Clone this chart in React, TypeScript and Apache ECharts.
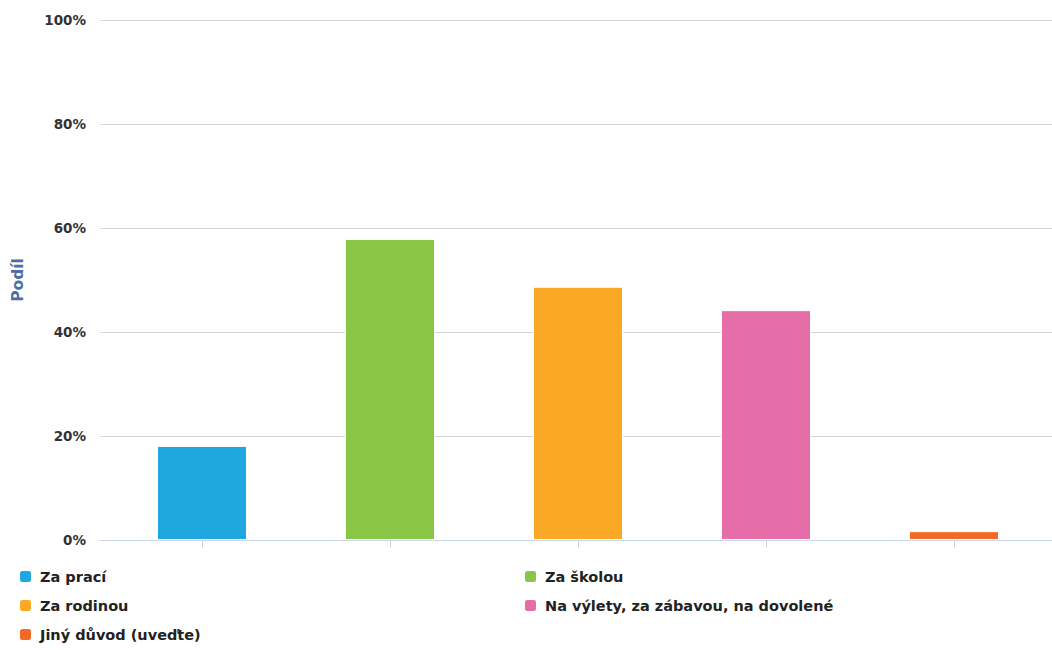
import React, { useEffect, useRef } from "react";
import * as echarts from "echarts";

const categories = ["Za prací", "Za školou", "Za rodinou", "Na výlety, za zábavou, na dovolené", "Jiný důvod (uveďte)"];
const seriesNames = ["Za prací", "Za školou", "Za rodinou", "Na výlety, za zábavou, na dovolené", "Jiný důvod (uveďte)"];
const values = [18.1, 57.9, 48.7, 44.2, 1.7];
const colors = ["#1fa8e0", "#89c547", "#fba826", "#e56ea8", "#f26a26"];
const yTicks = [0, 20, 40, 60, 80, 100];

const FONT = "'DejaVu Sans', sans-serif";

export default function App() {
  const ref = useRef<HTMLDivElement>(null);
  useEffect(() => {
    if (!ref.current) return;
    const chart = echarts.init(ref.current, null, { renderer: "svg" });
    const series = seriesNames.map((name, i) => ({
      name,
      type: "bar",
      xAxisIndex: 1,
      yAxisIndex: 1,
      barWidth: 90,
      barGap: "-100%",
      itemStyle: { color: colors[i], borderColor: "#ffffff", borderWidth: 1 },
      data: categories.map((_, j) => (j === i ? values[i] : null)),
    }));
    const legendText = { color: "#222222", fontWeight: "bold", fontSize: 14.5, fontFamily: FONT, padding: [0, 0, 0, 3] };
    chart.setOption({
      animation: false,
      grid: [
        { left: 100, right: 0, top: 20, bottom: 110 },
        { left: 108, right: 4, top: 20, bottom: 110 },
      ],
      xAxis: [
        {
          type: "category",
          gridIndex: 0,
          data: categories,
          axisLine: { lineStyle: { color: "#ccd6eb", width: 1 } },
          axisTick: { show: false },
          axisLabel: { show: false },
        },
        {
          type: "category",
          gridIndex: 1,
          data: categories,
          axisLine: { show: false },
          axisTick: { show: true, interval: 0, alignWithLabel: true, length: 8, lineStyle: { color: "#ccd6eb" } },
          axisLabel: { show: false, interval: 0 },
        },
      ],
      yAxis: [
        {
          type: "value",
          gridIndex: 0,
          min: 0,
          max: 100,
          interval: 20,
          name: "Podíl",
          nameLocation: "middle",
          nameGap: 74,
          nameRotate: 90,
          nameTextStyle: { color: "#4d6fa0", fontWeight: "bold", fontSize: 15.5, fontFamily: FONT },
          axisLine: { show: false },
          axisTick: { show: false },
          splitLine: { lineStyle: { color: "#d6d6d6", width: 1 } },
          axisLabel: {
            margin: 14,
            color: "#333333",
            fontWeight: "bold",
            fontSize: 13.5,
            fontFamily: FONT,
            formatter: (v: number) => (yTicks.includes(v) ? v + "%" : ""),
          },
        },
        {
          type: "value",
          gridIndex: 1,
          min: 0,
          max: 100,
          interval: 20,
          show: false,
          splitLine: { show: false },
        },
      ],
      legend: [
        {
          data: [seriesNames[0], seriesNames[2], seriesNames[4]],
          orient: "vertical",
          left: 18,
          top: 569,
          padding: 0,
          itemWidth: 13,
          itemHeight: 13,
          itemGap: 14,
          icon: "roundRect",
          selectedMode: false,
          textStyle: legendText,
        },
        {
          data: [seriesNames[1], seriesNames[3]],
          orient: "vertical",
          left: 523,
          top: 569,
          padding: 0,
          itemWidth: 13,
          itemHeight: 13,
          itemGap: 14,
          icon: "roundRect",
          selectedMode: false,
          textStyle: legendText,
        },
      ],
      series,
    });
    return () => chart.dispose();
  }, []);
  return <div ref={ref} style={{ position: "fixed", left: 0, top: 0, width: 1052, height: 650, background: "#ffffff" }} />;
}
